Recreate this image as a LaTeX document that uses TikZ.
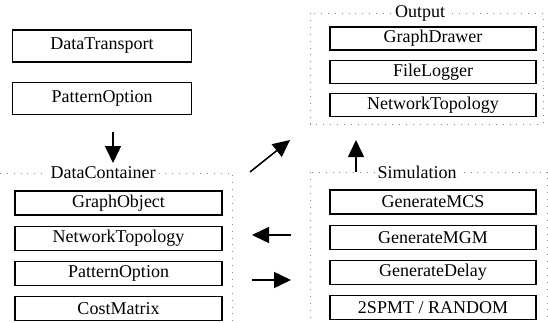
\documentclass[tikz,border=0pt]{standalone}
\usepackage{fontspec}
\setmainfont{Liberation Serif}
\usetikzlibrary{positioning,arrows.meta}

\begin{document}
\begin{tikzpicture}[x=1pt, y=-1pt, node distance=10pt,
  box/.style={draw, line width=1.2pt, minimum width=207pt, minimum height=24pt,
    inner sep=0pt, font=\fontsize{18}{20}\selectfont},
  grp/.style={draw=black!45, line width=0.9pt, dash pattern=on 0.9pt off 6pt},
  title/.style={fill=white, inner sep=3pt, font=\fontsize{18}{20}\selectfont},
  bigarrow/.style={line width=1.5pt, -{Triangle[length=17pt,width=16pt]}}]
  \useasboundingbox (0,0) rectangle (548,322);
  % group frames
  \draw[grp] (-10,173) rectangle (232,340);
  \draw[grp] (310,13) rectangle (543,124);
  \draw[grp] (310,172) rectangle (547,340);
  % transport
  \node[box, minimum width=179pt, minimum height=32pt] (trans) at (102,46) {DataTransport};
  \node[box, minimum width=179pt, minimum height=32pt, below=19pt of trans] (popt) {PatternOption};
  % data container
  \node[title] (dc) at (103,173) {DataContainer};
  \node[box] (gobj) at (118.5,203) {GraphObject};
  \node[box, below=of gobj] (ntop) {NetworkTopology};
  \node[box, below=of ntop] (popt2) {PatternOption};
  \node[box, below=of popt2] (cost) {CostMatrix};
  % output
  \node[title] (out) at (420,13) {Output};
  \node[box, minimum width=206pt, minimum height=23pt] (gdraw) at (433,38.5) {GraphDrawer};
  \node[box, minimum width=206pt, minimum height=23pt, below=9pt of gdraw] (flog) {FileLogger};
  \node[box, minimum width=206pt, minimum height=23pt, below=9pt of flog] (ntop2) {NetworkTopology};
  % simulation
  \node[title] (sim) at (417,172) {Simulation};
  \node[box, minimum width=206pt] (gmcs) at (433,202) {GenerateMCS};
  \node[box, minimum width=206pt, below=of gmcs] (gmgm) {GenerateMGM};
  \node[box, minimum width=206pt, below=of gmgm] (gdel) {GenerateDelay};
  \node[box, minimum width=206pt, below=of gdel] (rand) {2SPMT / RANDOM};
  % arrow ends
  \coordinate (a1) at (113,132);
  \coordinate (b1) at (113,163);
  \coordinate (a2) at (250,172);
  \coordinate (b2) at (290,140);
  \coordinate (a3) at (356,172);
  \coordinate (b3) at (356,140);
  \coordinate (a4) at (291,235);
  \coordinate (b4) at (252,235);
  \coordinate (a5) at (252,280);
  \coordinate (b5) at (291,280);
  \draw[bigarrow] (a1) -- (b1);
  \draw[bigarrow] (a2) -- (b2);
  \draw[bigarrow] (a3) -- (b3);
  \draw[bigarrow] (a4) -- (b4);
  \draw[bigarrow] (a5) -- (b5);
\end{tikzpicture}
\end{document}
